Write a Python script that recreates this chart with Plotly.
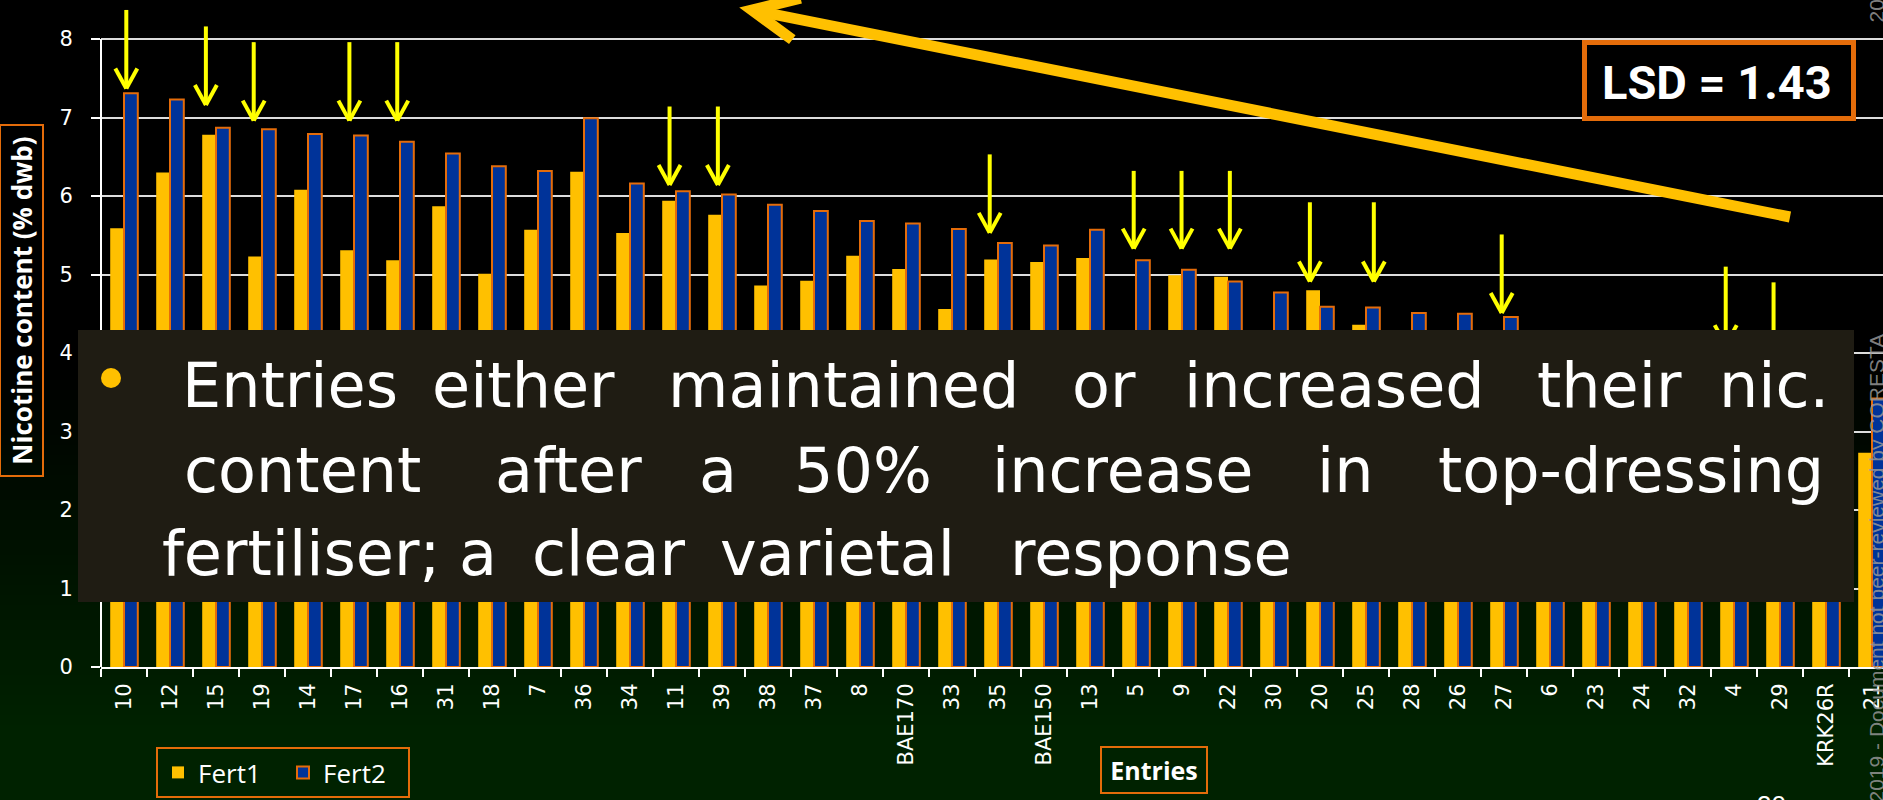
import plotly.graph_objects as go

# ---------------- data ----------------
categories = ['10', '12', '15', '19', '14', '17', '16', '31', '18', '7', '36', '34', '11',
              '39', '38', '37', '8', 'BAE170', '33', '35', 'BAE150', '13', '5', '9', '22',
              '30', '20', '25', '28', '26', '27', '6', '23', '24', '32', '4', '29', 'KRK26R', '21']
fert1 = [5.59, 6.30, 6.78, 5.23, 6.08, 5.31, 5.18, 5.87, 5.01, 5.57, 6.31, 5.53, 5.94,
         5.76, 4.86, 4.92, 5.24, 5.07, 4.56, 5.19, 5.16, 5.21, 4.10, 4.99, 4.97,
         3.90, 4.80, 4.36, 3.85, 4.05, 3.70, 4.00, 3.90, 3.75, 3.60, 3.98, 3.80, 3.20, 2.73]
fert2 = [7.31, 7.23, 6.87, 6.85, 6.79, 6.77, 6.69, 6.54, 6.38, 6.32, 6.99, 6.16, 6.06,
         6.02, 5.89, 5.81, 5.68, 5.65, 5.58, 5.40, 5.37, 5.57, 5.18, 5.06, 4.91,
         4.77, 4.59, 4.58, 4.51, 4.50, 4.46, 4.20, 4.15, 4.10, 4.05, 3.95, 3.70, 3.50, 3.42]
y_ticks = [0, 1, 2, 3, 4, 5, 6, 7, 8]

# yellow call-out arrows (category index position, top value, tip value)
arrow_x = [0.05, 1.78, 2.82, 4.90, 5.94, 11.86, 12.91, 18.82, 21.95, 22.99, 24.04,
           25.78, 27.17, 29.95, 34.82, 35.86]
arrow_top = [8.37, 8.16, 7.96, 7.96, 7.96, 7.14, 7.14, 6.53, 6.32, 6.32, 6.32,
             5.92, 5.92, 5.51, 5.10, 4.90]
arrow_tip = [7.37, 7.16, 6.96, 6.96, 6.96, 6.14, 6.14, 5.53, 5.33, 5.33, 5.33,
             4.91, 4.91, 4.51, 4.10, 3.90]

lsd_text = "LSD = 1.43"
ytitle = "Nicotine content (% dwb)"
xtitle = "Entries"
watermark = "2019 - Document not peer-reviewed by CORESTA"
bullet_lines = [
    ["Entries", "either", "maintained", "or", "increased", "their", "nic."],
    ["content", "after", "a", "50%", "increase", "in", "top-dressing"],
    ["fertiliser;", "a", "clear", "varietal", "response"],
]
bullet_centers = [
    [289.6, 523, 843.3, 1103.9, 1334.5, 1609, 1774],
    [302.8, 568, 718, 862.5, 1122.5, 1345, 1630.9],
    [300.5, 477.5, 608, 837, 1150.8],
]
bullet_baselines = [407, 492, 575]

# ---------------- geometry ----------------
W, H = 1883, 800
ML, MB = 101, 133
PW, PH = W - ML, H - MB
PX_CAT, PX_UNIT = 46.0, 78.5
x_range = [-0.5, -0.5 + PW / PX_CAT]
y_range = [0, PH / PX_UNIT]


def xp(px):
    return (px - ML) / PW


def yp(py):
    return (PH - py) / PH


YELLOW = '#FFC000'
BLUE = '#003399'
ORANGE = '#E46C0A'

fig = go.Figure()
fig.add_trace(go.Bar(x=categories, y=fert1, name='Fert1',
                     marker=dict(color=YELLOW, line=dict(width=0))))
fig.add_trace(go.Bar(x=categories, y=fert2, name='Fert2',
                     marker=dict(color=BLUE, line=dict(color=ORANGE, width=2))))

shapes = []
# background gradient (black -> dark green)
y = 330
while y < H:
    t = min(max((y - 360) / 370.0, 0), 1)
    g = int(round(34 * t))
    shapes.append(dict(type='rect', xref='paper', yref='paper', layer='below',
                       x0=xp(0), x1=xp(W), y0=yp(y + 6), y1=yp(y),
                       fillcolor=f'rgb(0,{g},0)', line=dict(width=0)))
    y += 5

# y axis line (stops at 8)
shapes.append(dict(type='line', xref='paper', yref='y', x0=0, x1=0, y0=0, y1=8,
                   line=dict(color='white', width=2)))

# yellow arrows
hdx, hdy = 11 / PX_CAT, 20 / PX_UNIT
for ax_, t0, t1 in zip(arrow_x, arrow_top, arrow_tip):
    for (x0, y0) in [(ax_, t0), (ax_ - hdx, t1 + hdy), (ax_ + hdx, t1 + hdy)]:
        shapes.append(dict(type='line', xref='x', yref='y', x0=x0, y0=y0, x1=ax_, y1=t1,
                           line=dict(color='#FFFF00', width=4), layer='above'))

# text panel
shapes.append(dict(type='rect', xref='paper', yref='paper', layer='above',
                   x0=xp(78), x1=xp(1854), y0=yp(602), y1=yp(330),
                   fillcolor='#1F1C13', line=dict(width=0)))
# bullet dot
shapes.append(dict(type='circle', xref='paper', yref='paper', layer='above',
                   x0=xp(101), x1=xp(121), y0=yp(388), y1=yp(368),
                   fillcolor=YELLOW, line=dict(width=0)))


# big orange arrow
def pth(pts):
    return 'M ' + ' L '.join(f'{xp(a):.5f},{yp(b):.5f}' for a, b in pts)


shapes.append(dict(type='path', xref='paper', yref='paper', layer='above',
                   path=pth([(1790, 217), (752, 10)]),
                   line=dict(color=YELLOW, width=11)))
shapes.append(dict(type='path', xref='paper', yref='paper', layer='above',
                   path=pth([(800.6, -1.8), (752, 10), (792.3, 39.6)]),
                   line=dict(color=YELLOW, width=11)))

# LSD box
shapes.append(dict(type='rect', xref='paper', yref='paper', layer='above',
                   x0=xp(1584.5), x1=xp(1853.5), y0=yp(118.5), y1=yp(42.5),
                   fillcolor='black', line=dict(color=ORANGE, width=5)))

annotations = []
annotations.append(dict(text=f'<b>{lsd_text}</b>', xref='paper', yref='paper',
                        x=xp(1717), y=yp(82), xanchor='center', yanchor='middle',
                        showarrow=False, font=dict(family='Roboto', size=47, color='white')))

# y title
annotations.append(dict(text=f'<b>{ytitle}</b>', xref='paper', yref='paper',
                        x=xp(21.5), y=yp(300.5), xanchor='center', yanchor='middle',
                        textangle=-90, showarrow=False, width=349, height=41,
                        borderwidth=2, borderpad=0, bordercolor=ORANGE,
                        font=dict(family='Open Sans', size=26, color='white')))
# x title
annotations.append(dict(text=f'<b>{xtitle}</b>', xref='paper', yref='paper',
                        x=xp(1154), y=yp(770), xanchor='center', yanchor='middle',
                        showarrow=False, width=104, height=44,
                        borderwidth=2, borderpad=0, bordercolor=ORANGE,
                        font=dict(family='Open Sans', size=25, color='white')))

# bullet text words
FS = 62
for words, cents, base in zip(bullet_lines, bullet_centers, bullet_baselines):
    for wd, c in zip(words, cents):
        annotations.append(dict(text=wd, xref='paper', yref='paper', x=xp(c),
                                y=yp(base - 0.346 * FS), xanchor='center', yanchor='middle',
                                showarrow=False,
                                font=dict(family='DejaVu Sans', size=FS, color='white')))

# watermark
annotations.append(dict(text=watermark, xref='paper', yref='paper', x=xp(1876), y=yp(332),
                        xanchor='center', yanchor='top', textangle=-90, showarrow=False,
                        font=dict(family='Liberation Sans', size=21,
                                  color='rgba(150,150,150,0.85)')))
annotations.append(dict(text=watermark, xref='paper', yref='paper', x=xp(1876), y=yp(25),
                        xanchor='center', yanchor='bottom', textangle=-90, showarrow=False,
                        font=dict(family='Liberation Sans', size=21,
                                  color='rgba(150,150,150,0.85)')))
# slide number (cut off)
annotations.append(dict(text='30', xref='paper', yref='paper', x=xp(1771), y=yp(788),
                        xanchor='center', yanchor='top', showarrow=False,
                        font=dict(family='Liberation Sans', size=26, color='white')))

fig.update_layout(
    width=W, height=H,
    margin=dict(l=ML, r=0, t=0, b=MB, pad=0, autoexpand=False),
    paper_bgcolor='black', plot_bgcolor='rgba(0,0,0,0)',
    barmode='group', bargap=0.4, bargroupgap=0,
    shapes=shapes, annotations=annotations,
    showlegend=True,
    legend=dict(orientation='h', x=xp(156), xanchor='left', y=yp(747), yanchor='top',
                bgcolor='rgba(0,0,0,0)', bordercolor=ORANGE, borderwidth=2,
                font=dict(family='Open Sans', size=26, color='white'), entrywidth=80),
    xaxis=dict(type='category', categoryorder='array', categoryarray=categories,
               range=x_range, tickson='boundaries', ticks='outside', ticklen=8,
               tickwidth=2, tickcolor='white', showline=True, linecolor='white',
               linewidth=2, tickangle=-90, showgrid=False, ticklabelstandoff=6,
               tickfont=dict(family='DejaVu Sans', size=21, color='white')),
    yaxis=dict(range=y_range, tickvals=y_ticks, ticks='outside', ticklen=9, tickwidth=2,
               tickcolor='white', showline=False, showgrid=True, gridcolor='#DDDDDD',
               gridwidth=2, zeroline=False, ticklabelstandoff=14,
               tickfont=dict(family='DejaVu Sans', size=21, color='white')),
)

fig.write_html('out.html')
